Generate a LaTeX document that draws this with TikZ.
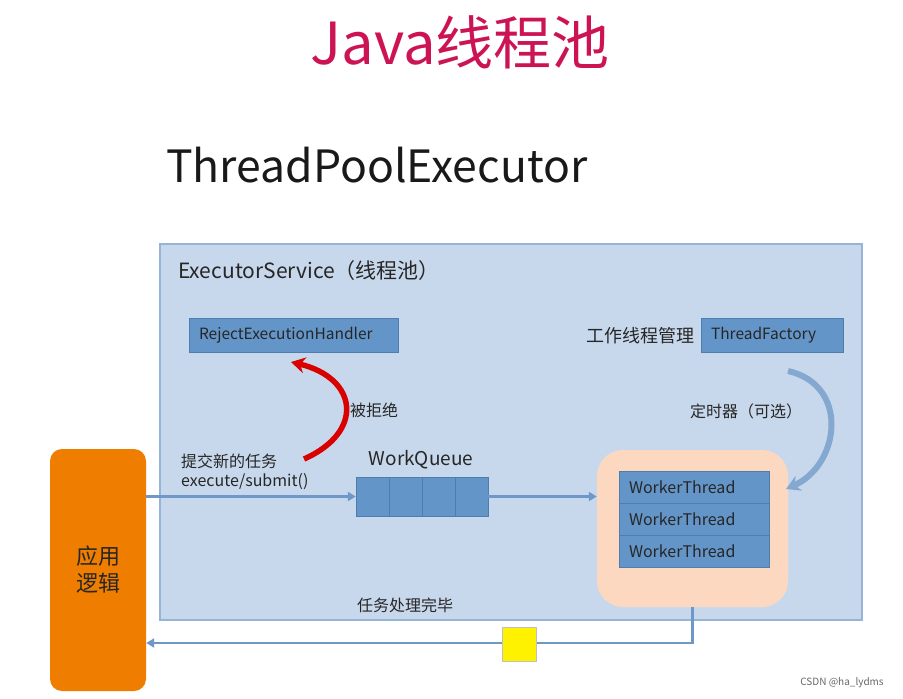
\documentclass[tikz,border=0pt]{standalone}
\usepackage{fontspec}
\setmainfont{Noto Sans CJK SC}
\usepackage{tikz}
\usetikzlibrary{positioning,arrows.meta,calc}
\definecolor{colPool}{RGB}{200,216,236}
\definecolor{colPoolEdge}{RGB}{150,180,214}
\definecolor{colBox}{RGB}{100,149,200}
\definecolor{colBoxEdge}{RGB}{80,125,175}
\definecolor{colLine}{RGB}{110,152,200}
\definecolor{colPeach}{RGB}{252,216,192}
\definecolor{colApp}{RGB}{238,125,0}
\definecolor{colTitle}{RGB}{204,20,84}
\definecolor{colText}{RGB}{38,38,38}

\begin{document}
\begin{tikzpicture}[
  x=1pt, y=-1pt,
  box/.style={
    draw=colBoxEdge, fill=colBox, text=colText,
    minimum height=34pt, inner xsep=10pt, inner ysep=2pt,
    align=left, font=\fontsize{15.5}{17}\selectfont
  },
  cell/.style={draw=colBoxEdge, fill=colBox,
    minimum width=33pt, minimum height=39pt, inner sep=0pt},
  worker/.style={box, text width=130pt, minimum height=32pt,
    font=\fontsize{16}{18}\selectfont},
  lbl/.style={text=colText, font=\fontsize{16}{19}\selectfont,
    inner sep=1pt},
  a/.style={-{Triangle[length=8pt,width=9pt]},line width=2.2pt,colLine}
]
\useasboundingbox (0,0) rectangle (903,699);

% Titles
\node[text=colTitle, font=\fontsize{58}{60}\selectfont] (title)
  at (460,42) {Java线程池};
\node[text=black!90, font=\fontsize{44.5}{46}\selectfont,
  anchor=west, inner sep=0pt] (head) at (166,165) {ThreadPoolExecutor};

% Executor service
\node[draw=colPoolEdge, line width=1.5pt, fill=colPool,
  minimum width=702pt, minimum height=376pt] (svc) at (511,432) {};
\node[lbl, anchor=west, font=\fontsize{21}{23}\selectfont]
  (svcname) at (177,271) {ExecutorService（线程池）};

\node[box, text width=189pt] (reject) at (293.5,335) {RejectExecutionHandler};
\node[box, text width=122pt] (factory) at (772,335) {ThreadFactory};
\node[lbl, anchor=east, font=\fontsize{18}{20}\selectfont]
  (mgr) at (696,336) {工作线程管理};

% Work queue
\foreach \i in {1,...,4}
  \node[cell] (q\i) at ({356+33*(\i-0.5)},496.5) {};
\node[lbl, font=\fontsize{19}{21}\selectfont] (wq) at (421,460) {WorkQueue};

% Worker pool
\node[fill=colPeach, rounded corners=26pt,
  minimum width=191pt, minimum height=157pt] (pool) at (692.5,528.5) {};
\node[worker] (w1) at (694,487) {WorkerThread};
\node[worker] (w2) at (694,519) {WorkerThread};
\node[worker] (w3) at (694,551) {WorkerThread};

% Application
\node[fill=colApp, rounded corners=12pt, minimum width=96pt,
  minimum height=242pt, text=colText, align=center,
  font=\fontsize{22}{27}\selectfont] (app) at (98,570) {应用\\逻辑};

% Labels
\node[lbl, anchor=west, align=left] (submit) at (180,472)
  {提交新的任务\\execute/submit()};
\node[lbl] (rej) at (374,410) {被拒绝};
\node[lbl] (timer) at (746,411) {定时器（可选）};
\node[lbl] (done) at (405,605) {任务处理完毕};

% Arrows
\draw[a] (app.east |- q1) -- (q1.west);
\draw[a] (q4.east) -- (pool.west |- q4);

\coordinate (rejS) at (304,459);
\coordinate (rejE) at (291,362);
\draw[-{Stealth[length=14pt,width=16pt]}, line width=5.5pt, red!85!black]
  (rejS) .. controls (365,432) and (358,378) .. (rejE);

\coordinate (facS) at (788,371);
\coordinate (facE) at (786,489);
\draw[-{Stealth[length=14pt,width=16pt]}, line width=6pt, colLine!85]
  (facS) .. controls (850,385) and (840,465) .. (facE);

\coordinate (ret) at (692.5,643);
\draw[a] (pool.south) -- (ret) -- (app.east |- ret);
\node[draw=black!25, fill=yellow, minimum size=34pt] (tok) at (519,644) {};

% Watermark
\node[text=black!60, font=\fontsize{10}{12}\selectfont] (mark)
  at (842,683) {CSDN @ha\_lydms};
\end{tikzpicture}
\end{document}
